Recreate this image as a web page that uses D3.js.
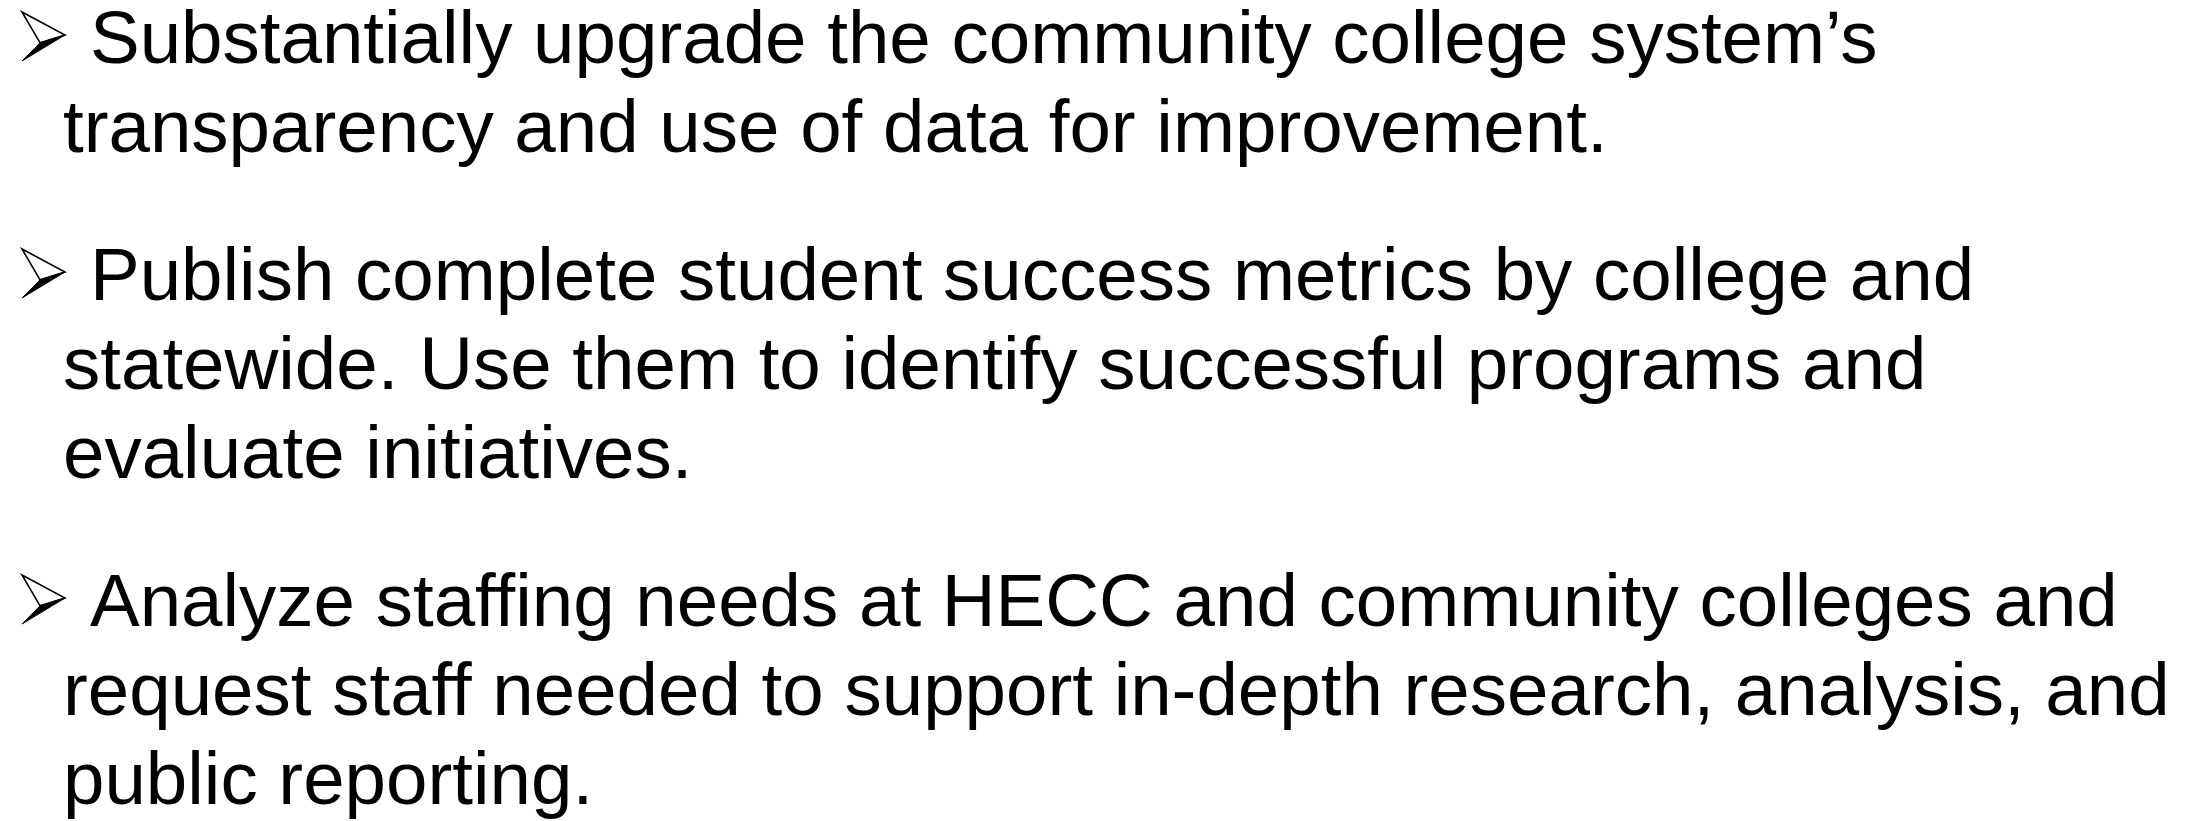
<!DOCTYPE html>
<html>
<head>
<meta charset="utf-8">
<script src="https://cdn.jsdelivr.net/npm/d3@7"></script>
<style>
    html, body { margin: 0; padding: 0; background: #fff; }
    #slide text { font-family: "Liberation Sans", Arial, sans-serif; fill: #000; }
</style>
</head>
<body>
<div id="slide"></div>
<script>
// slide text, one array per bullet, wrapped as in the original
var bulletTransparency = [
    "Substantially upgrade the community college system\u2019s",
    "transparency and use of data for improvement."
];
var bulletMetrics = [
    "Publish complete student success metrics by college and",
    "statewide. Use them to identify successful programs and",
    "evaluate initiatives."
];
var bulletStaffing = [
    "Analyze staffing needs at HECC and community colleges and",
    "request staff needed to support in-depth research, analysis, and",
    "public reporting."
];
var bullets = [bulletTransparency, bulletMetrics, bulletStaffing];

window.onload = function () {
    var width = 2201, height = 821;
    var fontSize = 74.5,
        firstBaseline = 63,
        linePitch = 89,
        paraGap = 59,
        bulletX = 22,
        textX = 90,
        indentX = 63;

    var svg = d3.select("#slide")
        .append("svg")
        .attr("width", width)
        .attr("height", height);

    svg.append("rect")
        .attr("width", width)
        .attr("height", height)
        .attr("fill", "#fff");

    // flatten to lines with a baseline each
    var lines = [];
    var y = firstBaseline;
    bullets.forEach(function (para, p) {
        para.forEach(function (txt, i) {
            lines.push({para: p, first: i === 0, text: txt, y: y});
            y += linePitch;
        });
        y += paraGap;
    });

    svg.append("g")
        .selectAll("text")
        .data(lines)
        .enter()
        .append("text")
        .attr("x", function (d) { return d.first ? textX : indentX; })
        .attr("y", function (d) { return d.y; })
        .style("font-size", fontSize + "px")
        .text(function (d) { return d.text; });

    // arrowhead bullet (wingdings style): light upper half, dark lower half
    var w = 43, h = 49;
    var heads = svg.append("g")
        .selectAll("g")
        .data(lines.filter(function (d) { return d.first; }))
        .enter()
        .append("g")
        .attr("transform", function (d) {
            return "translate(" + bulletX + "," + (d.y - 51) + ")";
        });

    heads.append("path")
        .attr("d", "M0,0 L" + w + "," + (h * 0.47) + " L" + (w * 0.42) + "," + (h * 0.63) + " Z")
        .attr("fill", "#fff")
        .attr("stroke", "#000")
        .attr("stroke-width", 1.6)
        .attr("stroke-linejoin", "miter");

    heads.append("path")
        .attr("d", "M" + (w * 0.42) + "," + (h * 0.63) + " L" + w + "," + (h * 0.47) + " L0," + h + " Z")
        .attr("fill", "#000")
        .attr("stroke", "#000")
        .attr("stroke-width", 1);
};
</script>
</body>
</html>
